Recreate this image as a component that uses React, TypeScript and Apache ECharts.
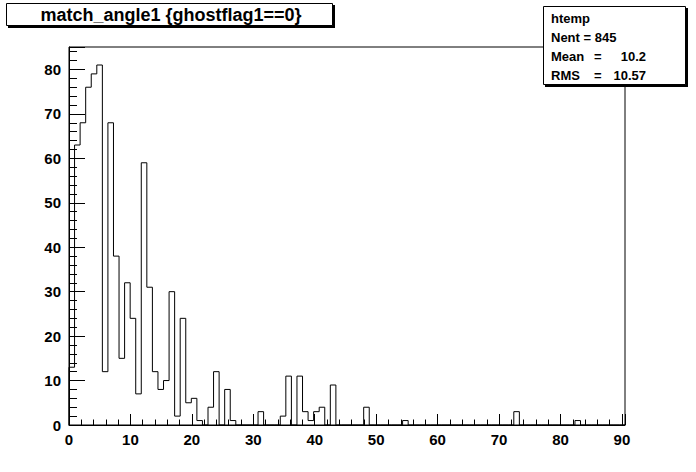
import React, { useEffect, useRef } from "react";
import * as echarts from "echarts";

// Histogram definition (ROOT htemp)
const xMin = 0;
const xMax = 90.5;
const nBins = 100;
const counts: number[] = [
  13, 63, 68, 76, 79, 81, 12, 68, 38, 15,
  32, 24, 7, 59, 31, 12, 8, 10, 30, 2,
  24, 5, 6, 1, 0, 4, 12, 0, 8, 1,
  0, 0, 0, 0, 3, 0, 0, 0, 2, 11,
  0, 11, 3, 1, 3, 4, 0, 9, 0, 0,
  0, 0, 0, 4, 0, 0, 0, 0, 0, 0,
  1, 0, 0, 0, 0, 0, 0, 0, 0, 0,
  0, 0, 0, 0, 0, 0, 0, 0, 0, 0,
  3, 0, 0, 0, 0, 0, 0, 0, 0, 0,
  0, 1, 0, 0, 0, 0, 0, 0, 0, 0,
];
const yMax = 85.05;
const titleText = "match_angle1 {ghostflag1==0}";
const statsName = "htemp";
const statsLines = [
  { label: "Mean", value: "10.2" },
  { label: "RMS", value: "10.57" },
];
const nentText = "Nent = 845";

const FONT = "Liberation Sans, Arial, sans-serif";

export default function App() {
  const ref = useRef<HTMLDivElement>(null);
  useEffect(() => {
    document.body.style.margin = "0";
    if (!ref.current) return;
    const chart = echarts.init(ref.current, null, { renderer: "svg" });
    const w = (xMax - xMin) / nBins;
    const pts: number[][] = [[xMin, 0]];
    counts.forEach((c, i) => pts.push([xMin + i * w, c]));
    pts.push([xMax, counts[counts.length - 1]]);
    pts.push([xMax, 0]);

    const labelFmt = (v: number) => (Math.abs(v % 10) < 1e-9 ? String(v) : "");

    chart.setOption({
      animation: false,
      backgroundColor: "#ffffff",
      grid: {
        left: 69,
        right: 71,
        top: 47,
        bottom: 47,
        show: true,
        borderColor: "#000",
        borderWidth: 1,
        backgroundColor: "transparent",
      },
      xAxis: {
        type: "value",
        min: xMin,
        max: xMax,
        interval: 10,
        axisLine: { show: true, lineStyle: { color: "#000", width: 1 } },
        axisTick: { show: true, inside: true, length: 11, lineStyle: { color: "#000" } },
        minorTick: { show: true, splitNumber: 5, length: 5.5, lineStyle: { color: "#000" } },
        splitLine: { show: false },
        axisLabel: {
          formatter: labelFmt,
          color: "#000",
          fontFamily: FONT,
          fontWeight: "bold",
          fontSize: 15,
          margin: 7,
          showMaxLabel: true,
        },
      },
      yAxis: {
        type: "value",
        min: 0,
        max: yMax,
        interval: 10,
        axisLine: { show: true, lineStyle: { color: "#000", width: 1 } },
        axisTick: { show: true, inside: true, length: 16, lineStyle: { color: "#000" } },
        minorTick: { show: true, splitNumber: 5, length: 8, lineStyle: { color: "#000" } },
        splitLine: { show: false },
        axisLabel: {
          formatter: labelFmt,
          color: "#000",
          fontFamily: FONT,
          fontWeight: "bold",
          fontSize: 15,
          margin: 8,
        },
      },
      series: [
        {
          type: "line",
          step: "end",
          data: pts,
          symbol: "none",
          lineStyle: { color: "#000", width: 1 },
          clip: true,
        },
      ],
      graphic: [
        // Title box with shadow
        { type: "rect", shape: { x: 8, y: 5, width: 327, height: 23 }, style: { fill: "#000" }, silent: true },
        { type: "rect", shape: { x: 6.5, y: 3.5, width: 326, height: 22 }, style: { fill: "#fff", stroke: "#000", lineWidth: 1 }, silent: true },
        {
          type: "text",
          x: 171,
          y: 15,
          style: {
            text: titleText,
            fill: "#000",
            font: `bold 18px ${FONT}`,
            align: "center",
            verticalAlign: "middle",
          },
          silent: true,
        },
        // Stats box with shadow
        { type: "rect", shape: { x: 545, y: 8, width: 143, height: 79 }, style: { fill: "#000" }, silent: true, z: 100 },
        { type: "rect", shape: { x: 543.5, y: 6.5, width: 142, height: 78 }, style: { fill: "#fff", stroke: "#000", lineWidth: 1 }, silent: true, z: 101 },
        {
          type: "text", x: 551, y: 18, z: 102,
          style: { text: statsName, fill: "#000", font: `bold 13px ${FONT}`, verticalAlign: "middle" },
        },
        {
          type: "text", x: 551, y: 37, z: 102,
          style: { text: nentText, fill: "#000", font: `bold 13px ${FONT}`, verticalAlign: "middle" },
        },
        ...statsLines.flatMap((s, i) => [
          {
            type: "text", x: 551, y: 56 + i * 19, z: 102,
            style: { text: s.label, fill: "#000", font: `bold 13px ${FONT}`, verticalAlign: "middle" },
          },
          {
            type: "text", x: 594, y: 56 + i * 19, z: 102,
            style: { text: "=", fill: "#000", font: `bold 13px ${FONT}`, verticalAlign: "middle" },
          },
          {
            type: "text", x: 646, y: 56 + i * 19, z: 102,
            style: { text: s.value, fill: "#000", font: `bold 13px ${FONT}`, align: "right", verticalAlign: "middle" },
          },
        ]),
      ],
    });
    return () => chart.dispose();
  }, []);
  return <div ref={ref} style={{ width: 696, height: 472 }} />;
}
